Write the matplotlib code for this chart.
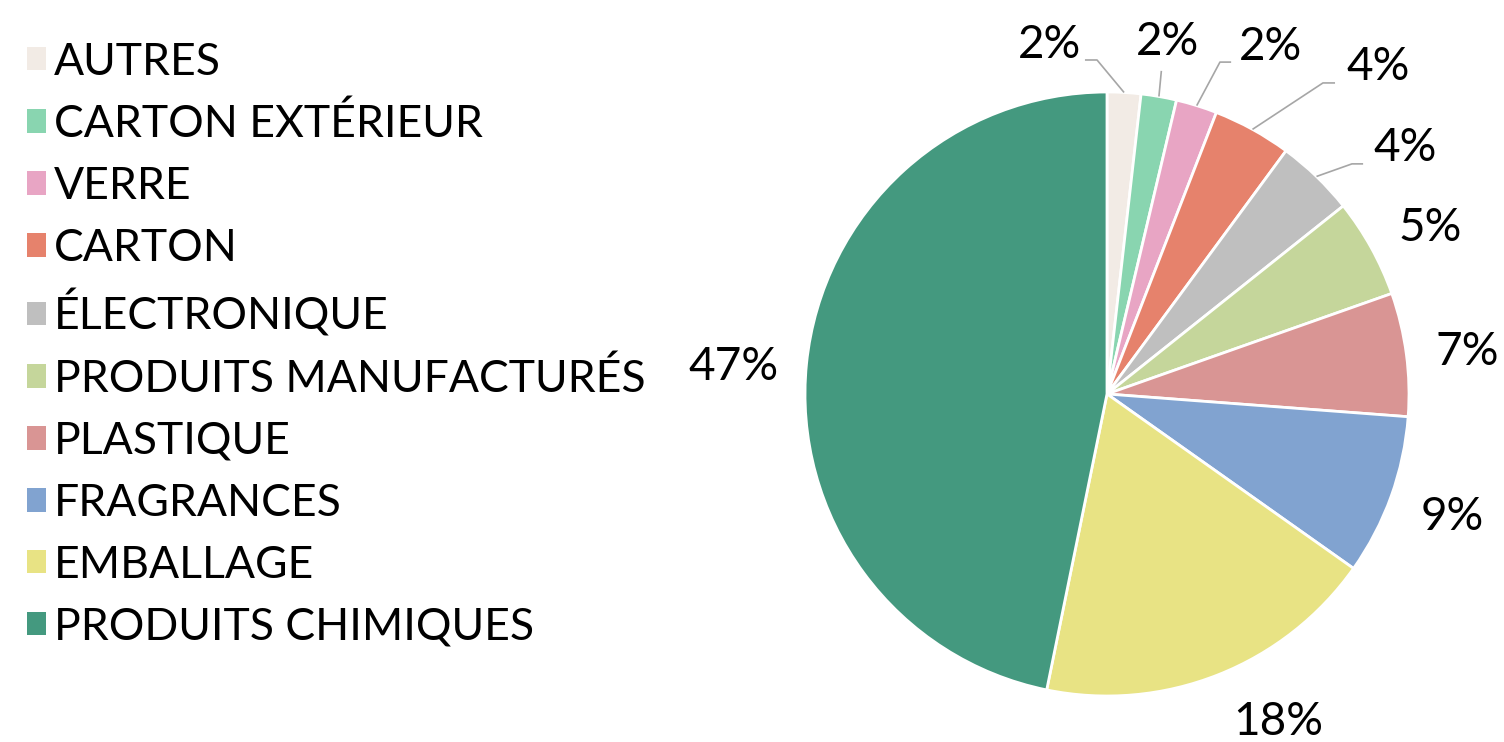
import matplotlib
matplotlib.use('Agg')
from matplotlib import pyplot as plt
import numpy as np

##### Data #####
categories = ['AUTRES', 'CARTON EXTÉRIEUR', 'VERRE', 'CARTON', 'ÉLECTRONIQUE',
              'PRODUITS MANUFACTURÉS', 'PLASTIQUE', 'FRAGRANCES', 'EMBALLAGE',
              'PRODUITS CHIMIQUES']
shares = [1.8, 1.9, 2.2, 4.2, 4.2, 5.3, 6.6, 8.6, 18.4, 46.8]
colors = ['#F2EBE5', '#89D5B0', '#E8A5C4', '#E6826C', '#BFBFBF',
          '#C5D69B', '#D99594', '#81A3D0', '#E8E384', '#44997F']

##### Layout (in pie-radius units, relative to the centre) #####
label_pos = [(-0.19, 1.156), (0.20, 1.166), (0.54, 1.149), (0.897, 1.083),
             (0.987, 0.815), (1.07, 0.55), (1.192, 0.139), (1.142, -0.407),
             (0.566, -1.086), (-1.238, 0.089)]
# elbow + end of leader lines for the small slices (None = no line)
leaders = [((-0.033, 1.106), (-0.073, 1.106)),
           ((0.18, 1.07), (0.18, 1.07)),
           ((0.374, 1.099), (0.411, 1.099)),
           ((0.715, 1.03), (0.755, 1.03)),
           ((0.811, 0.762), (0.848, 0.762)),
           None, None, None, None, None]

plt.rcParams['font.family'] = ['Lato', 'DejaVu Sans']
FONT = dict(fontsize=33, fontweight='normal', color='#000000')

W, H = 1504, 742
CX, CY, R = 1107, 348, 302

fig = plt.figure(figsize=(W / 100, H / 100), dpi=100)
ax = fig.add_axes([0, 0, 1, 1])

wedges, _ = ax.pie(shares, colors=colors, startangle=90, counterclock=False,
                   center=(CX, CY), radius=R,
                   wedgeprops=dict(edgecolor='white', linewidth=2))

total = sum(shares)
cum = 0.0
for i, v in enumerate(shares):
    mid = np.deg2rad(90 - (cum + v / 2) / total * 360)
    cum += v
    lx, ly = label_pos[i]
    ax.text(CX + R * lx, CY + R * ly, '%d%%' % round(v), ha='center', va='center', **FONT)
    if leaders[i] is not None:
        (ex, ey), (tx, ty) = leaders[i]
        xs = [CX + R * np.cos(mid), CX + R * ex, CX + R * tx]
        ys = [CY + R * np.sin(mid), CY + R * ey, CY + R * ty]
        ax.plot(xs, ys, color='#A6A6A6', linewidth=1.2, solid_capstyle='butt')

ax.set_xlim(0, W)
ax.set_ylim(0, H)
ax.set_aspect('equal')
ax.axis('off')

leg = ax.legend(wedges, categories, loc='upper left', bbox_to_anchor=(0.018, 0.944),
                frameon=False, prop=dict(family=['Lato', 'DejaVu Sans'], weight='normal', size=32),
                handlelength=0.43, handleheight=0.43, handletextpad=0.18,
                labelspacing=0.47, borderpad=0, borderaxespad=0)
for h in leg.legend_handles:
    h.set_edgecolor('none')

plt.savefig('out.png', dpi=100)
